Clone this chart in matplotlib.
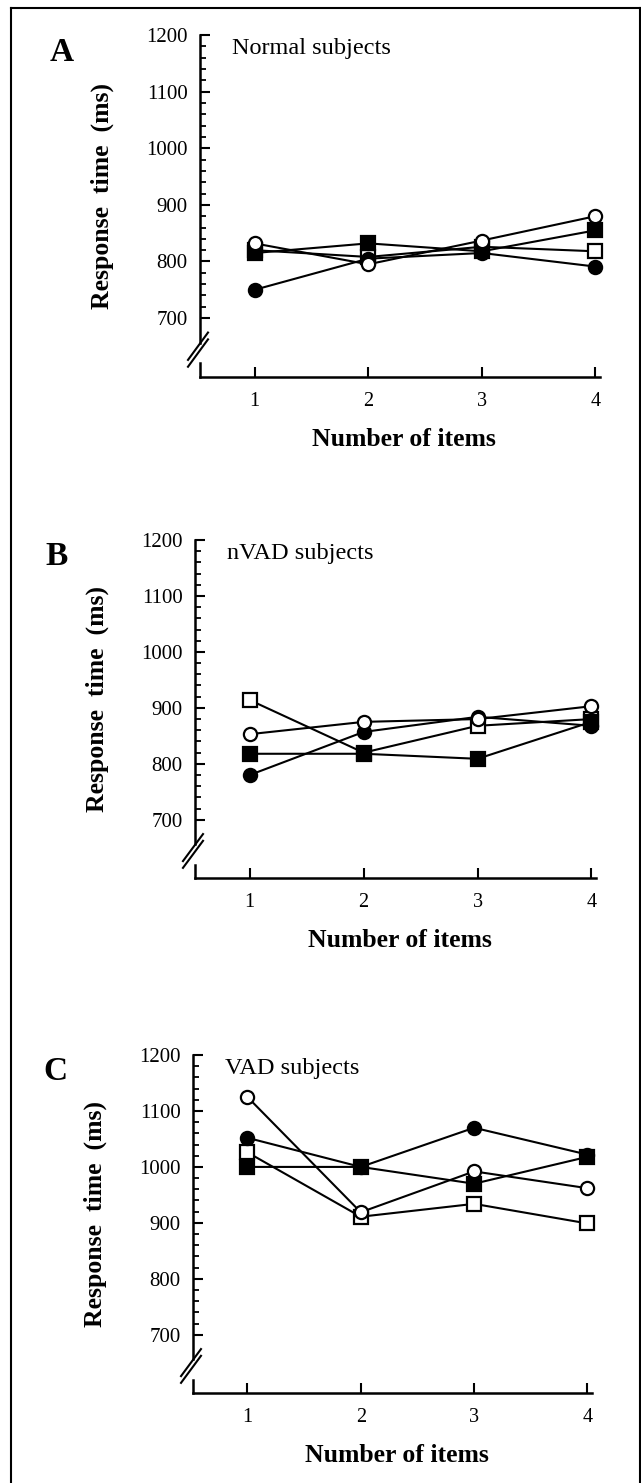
import matplotlib.pyplot as plt
from matplotlib.lines import Line2D
from matplotlib.ticker import FixedLocator

plt.rcParams['font.family'] = ['Liberation Serif', 'DejaVu Serif']

items = [1, 2, 3, 4]
x_ticklabels = ['1', '2', '3', '4']
y_major = [700, 800, 900, 1000, 1100, 1200]
y_minor = list(range(700, 1201, 20))

panel_letters = ['A', 'B', 'C']
panel_titles = ['Normal subjects', 'nVAD subjects', 'VAD subjects']

# response times (ms) per condition
normal_filled_circle = [750, 805, 815, 791]
normal_open_circle = [832, 795, 837, 880]
normal_filled_square = [815, 832, 818, 855]
normal_open_square = [820, 808, 826, 818]

nvad_filled_circle = [780, 857, 884, 868]
nvad_open_circle = [853, 875, 880, 903]
nvad_filled_square = [818, 818, 809, 875]
nvad_open_square = [914, 820, 868, 880]

vad_filled_circle = [1052, 1000, 1070, 1022]
vad_open_circle = [1125, 919, 992, 962]
vad_filled_square = [1000, 1000, 970, 1018]
vad_open_square = [1026, 911, 934, 899]

panels = [
    [normal_open_square, normal_filled_circle, normal_filled_square, normal_open_circle],
    [nvad_open_square, nvad_filled_square, nvad_filled_circle, nvad_open_circle],
    [vad_open_square, vad_filled_square, vad_open_circle, vad_filled_circle],
]
order_styles = {
    'open_square': ('s', 'white'),
    'filled_square': ('s', 'black'),
    'open_circle': ('o', 'white'),
    'filled_circle': ('o', 'black'),
}
panel_keys = [
    ['open_square', 'filled_circle', 'filled_square', 'open_circle'],
    ['open_square', 'filled_square', 'filled_circle', 'open_circle'],
    ['open_square', 'filled_square', 'open_circle', 'filled_circle'],
]

W, H = 641, 1483
fig = plt.figure(figsize=(W / 100, H / 100), dpi=100)

# axes boxes in pixels: left, top(1200), right, bottom(x axis)
boxes = [(200, 35, 600, 377), (195, 540, 596, 878), (193, 1055, 592, 1393)]
ymin = 596

for i, (l, t, r, b) in enumerate(boxes):
    ax = fig.add_axes([l / W, 1 - b / H, (r - l) / W, (b - t) / H])
    ax.set_xlim(0.52, 4.04)
    ax.set_ylim(ymin, 1200)
    for key, ys in zip(panel_keys[i], panels[i]):
        m, fc = order_styles[key]
        ax.plot(items, ys, color='black', lw=1.5, marker=m, markersize=9.5,
                markerfacecolor=fc, markeredgecolor='black', markeredgewidth=1.6,
                clip_on=False)

    ax.spines['top'].set_visible(False)
    ax.spines['right'].set_visible(False)
    ax.spines['left'].set_bounds(656, 1200)
    ax.spines['left'].set_linewidth(1.8)
    ax.spines['bottom'].set_linewidth(1.8)
    ax.plot([0.52, 0.52], [ymin, 620], color='black', lw=1.8, clip_on=False)
    for dy in (0.0, 0.02):
        ax.add_line(Line2D([-0.03, 0.02], [0.03 + dy, 0.11 + dy], color='black',
                           lw=1.5, transform=ax.transAxes, clip_on=False))

    ax.set_xticks(items, x_ticklabels)
    ax.yaxis.set_major_locator(FixedLocator(y_major))
    ax.yaxis.set_minor_locator(FixedLocator(y_minor))
    ax.tick_params(axis='x', direction='in', length=7, width=1.5, pad=11, labelsize=14.5)
    ax.tick_params(axis='y', which='major', direction='in', length=7, width=1.5,
                   pad=9, labelsize=15)
    ax.tick_params(axis='y', which='minor', direction='in', length=4, width=1.3)

    ax.set_ylabel('Response  time  (ms)', fontsize=18.5, fontweight='bold')
    ax.yaxis.set_label_coords(-0.215, 0.53)
    ax.set_xlabel('Number of items', fontsize=18.5, fontweight='bold')
    ax.xaxis.set_label_coords(0.51, -0.15)

    ax.text(0.08, 0.99, panel_titles[i], transform=ax.transAxes, fontsize=17.5,
            ha='left', va='top')
    ax.text(-0.345, 0.95, panel_letters[i], transform=ax.transAxes, fontsize=24,
            fontweight='bold', ha='center', va='center')

# frame around the whole figure
for xs, ys in [([11, 11], [8, 1490]), ([11, 640], [8, 8]), ([640, 640], [8, 1490])]:
    fig.add_artist(Line2D([x / W for x in xs], [1 - y / H for y in ys],
                          color='black', lw=1.5))

fig.savefig('out.png', dpi=100, facecolor='white')
